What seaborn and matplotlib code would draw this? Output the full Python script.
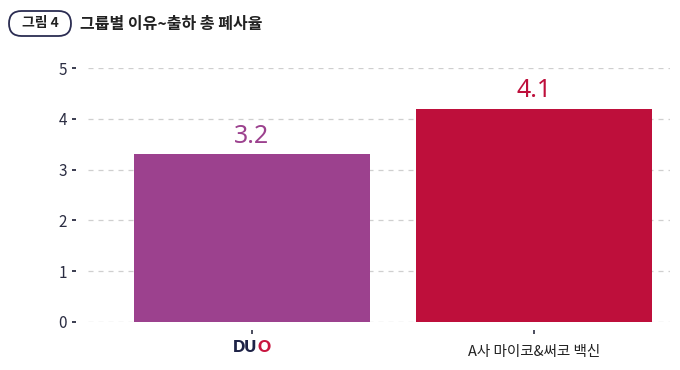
import matplotlib
matplotlib.use("Agg")
import matplotlib.pyplot as plt
import matplotlib.transforms as mtransforms
from matplotlib.patches import FancyBboxPatch
import pandas as pd
import seaborn as sns

# data
groups = ["DUO", "A사 마이코&써코 백신"]
bar_values = [3.3, 4.2]          # bar heights as drawn
value_labels = ["3.2", "4.1"]    # printed labels
bar_colors = ["#9c418e", "#be0f3b"]
y_ticks = [0, 1, 2, 3, 4, 5]
fig_tag = "그림 4"
fig_title = "그룹별 이유~출하 총 폐사율"

sns.set_theme(style="white")
plt.rcParams['font.family'] = ['Noto Sans CJK KR', 'DejaVu Sans']

W, H = 680, 370
fig = plt.figure(figsize=(W / 100, H / 100), dpi=100)
x0, x1, y0, y1 = 88, 670, 321.7, 68.3
ax = fig.add_axes([x0 / W, (H - y0) / H, (x1 - x0) / W, (y0 - y1) / H])

df = pd.DataFrame({"group": groups, "value": bar_values})
sns.barplot(data=df, x="group", y="value", hue="group", palette=bar_colors,
            width=0.834, legend=False, ax=ax, saturation=1, edgecolor="none")

ax.set_xlim(-0.578, 1.479)
ax.set_ylim(0, 5)
ax.set_yticks(y_ticks)
ax.set_xlabel("")
ax.set_ylabel("")
ax.yaxis.grid(True, color="#cfcfcf", linestyle=(0, (4, 4)), linewidth=0.9)
ax.set_axisbelow(True)
for s in ax.spines.values():
    s.set_visible(False)
ax.spines["left"].set_position(("outward", 8.5))
ax.spines["bottom"].set_position(("outward", 6))

navy = "#2b2d42"
ax.tick_params(axis="y", left=True, length=3, width=1.3, color=navy,
               labelsize=11, labelcolor=navy, pad=3.5)
ax.tick_params(axis="x", bottom=True, length=3, width=1.2, color=navy,
               labelsize=10.5, labelcolor="#222222", pad=8)
ax.set_xticks([0, 1])
ax.set_xticklabels(["", groups[1]])

# value labels
for i, cont in enumerate(ax.containers):
    ax.bar_label(cont, labels=[value_labels[i]], padding=4, fontsize=18,
                 color=bar_colors[i], family=['Noto Sans', 'DejaVu Sans'])

# DUO logo-ish label
trans = mtransforms.blended_transform_factory(ax.transData, fig.transFigure)
ty = (H - 347) / H
ax.text(0.02, ty, "DU", transform=trans, ha="right", va="center",
        fontsize=11.5, fontweight="heavy", color="#1e2347",
        family=['Lato', 'DejaVu Sans'], clip_on=False)
ax.text(0.022, ty, "O", transform=trans, ha="left", va="center",
        fontsize=11.5, fontweight="heavy", color="#c8163f",
        family=['Lato', 'DejaVu Sans'], clip_on=False)

# header tag + title, drawn in a pixel-space overlay
hdr = fig.add_axes([0, 0, 1, 1], zorder=5)
hdr.set_xlim(0, W)
hdr.set_ylim(H, 0)
hdr.axis("off")
hdr.patch.set_alpha(0)
tag = FancyBboxPatch((9, 11), 62, 25, boxstyle="round,pad=0,rounding_size=12.5",
                     facecolor="white", edgecolor="#2b2d52", linewidth=1.3)
hdr.add_patch(tag)
hdr.text(40, 23.5, fig_tag, ha="center", va="center",
         fontsize=10, fontweight="bold", color="#222222")
hdr.text(80, 23.5, fig_title, ha="left", va="center",
         fontsize=11.5, fontweight="bold", color="#222222")

fig.savefig("out.png", dpi=100)
